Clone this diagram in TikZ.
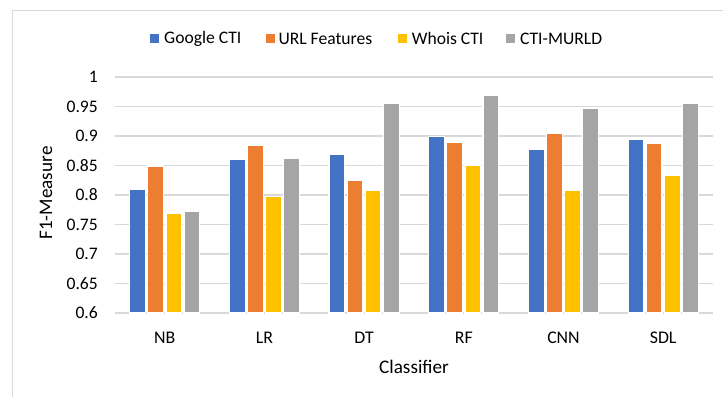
\documentclass[tikz,border=0pt]{standalone}
\usepackage{fontspec}
\setmainfont{Carlito}
\definecolor{sblue}{HTML}{4472C4}
\definecolor{sorange}{HTML}{ED7D31}
\definecolor{syellow}{HTML}{FFC000}
\definecolor{sgray}{HTML}{A5A5A5}
\definecolor{gridgray}{HTML}{D9D9D9}
\begin{document}
\begin{tikzpicture}[x=1pt,y=-1pt,
  gridline/.style={draw=gridgray,line width=1.2pt},
  bar/.style={draw=white,line width=1.2pt},
  ticklab/.style={anchor=east,font=\fontsize{17.6}{20}\selectfont,inner sep=0},
  catlab/.style={font=\fontsize{17.8}{20}\selectfont,inner sep=0},
  axtitle/.style={font=\fontsize{19.2}{22}\selectfont,inner sep=0},
  legtext/.style={anchor=west,font=\fontsize{17.6}{20}\selectfont,inner sep=0},
  legkey/.style={minimum size=9pt,inner sep=0,anchor=west}]
\useasboundingbox (0,0) rectangle (723,397);
\fill[white] (0,0) rectangle (723,397);
% chart area frame
\draw[gridgray,line width=1pt] (12,397) -- (12,10) -- (723,10);
% horizontal grid and value axis labels
\foreach \k/\lab in {0/0.6,1/0.65,2/0.7,3/0.75,4/0.8,5/0.85,6/0.9,7/0.95,8/1}{
  \draw[gridline] (115,{313-\k*29.5}) -- (713,{313-\k*29.5});
  \node[ticklab] (t\k) at (98,{313-\k*29.5}) {\lab};
}
% clustered bars: Google CTI, URL Features, Whois CTI, CTI-MURLD
\foreach \g/\cat/\va/\vb/\vc/\vd in {0/NB/0.809/0.849/0.768/0.773,
    1/LR/0.861/0.884/0.797/0.862, 2/DT/0.869/0.824/0.808/0.956,
    3/RF/0.899/0.890/0.851/0.968, 4/CNN/0.878/0.904/0.807/0.946,
    5/SDL/0.894/0.888/0.833/0.955}{
  \pgfmathsetmacro\cx{164.8+99.67*\g}
  \filldraw[bar,fill=sblue]   ({\cx-27.15-7.9},313) rectangle ({\cx-27.15+7.9},{313-(\va-0.6)*590});
  \filldraw[bar,fill=sorange] ({\cx-9.05-7.9},313)  rectangle ({\cx-9.05+7.9},{313-(\vb-0.6)*590});
  \filldraw[bar,fill=syellow] ({\cx+9.05-7.9},313)  rectangle ({\cx+9.05+7.9},{313-(\vc-0.6)*590});
  \filldraw[bar,fill=sgray]   ({\cx+27.15-7.9},313) rectangle ({\cx+27.15+7.9},{313-(\vd-0.6)*590});
  \node[catlab] (c\g) at (\cx,338) {\cat};
}
% axis titles
\node[axtitle] (xtitle) at (414,367) {Classifier};
\node[axtitle,rotate=90] (ytitle) at (46,193) {F1-Measure};
% legend
\node[legkey,fill=sblue]   (k1) at (150,38.5) {};
\node[legtext] (l1) at (164,38.5) {Google CTI};
\node[legkey,fill=sorange] (k2) at (266,38.5) {};
\node[legtext] (l2) at (278.3,38.5) {URL Features};
\node[legkey,fill=syellow] (k3) at (398,38.5) {};
\node[legtext] (l3) at (411.7,38.5) {Whois CTI};
\node[legkey,fill=sgray]   (k4) at (506,38.5) {};
\node[legtext] (l4) at (520,38.5) {CTI-MURLD};
\end{tikzpicture}
\end{document}
